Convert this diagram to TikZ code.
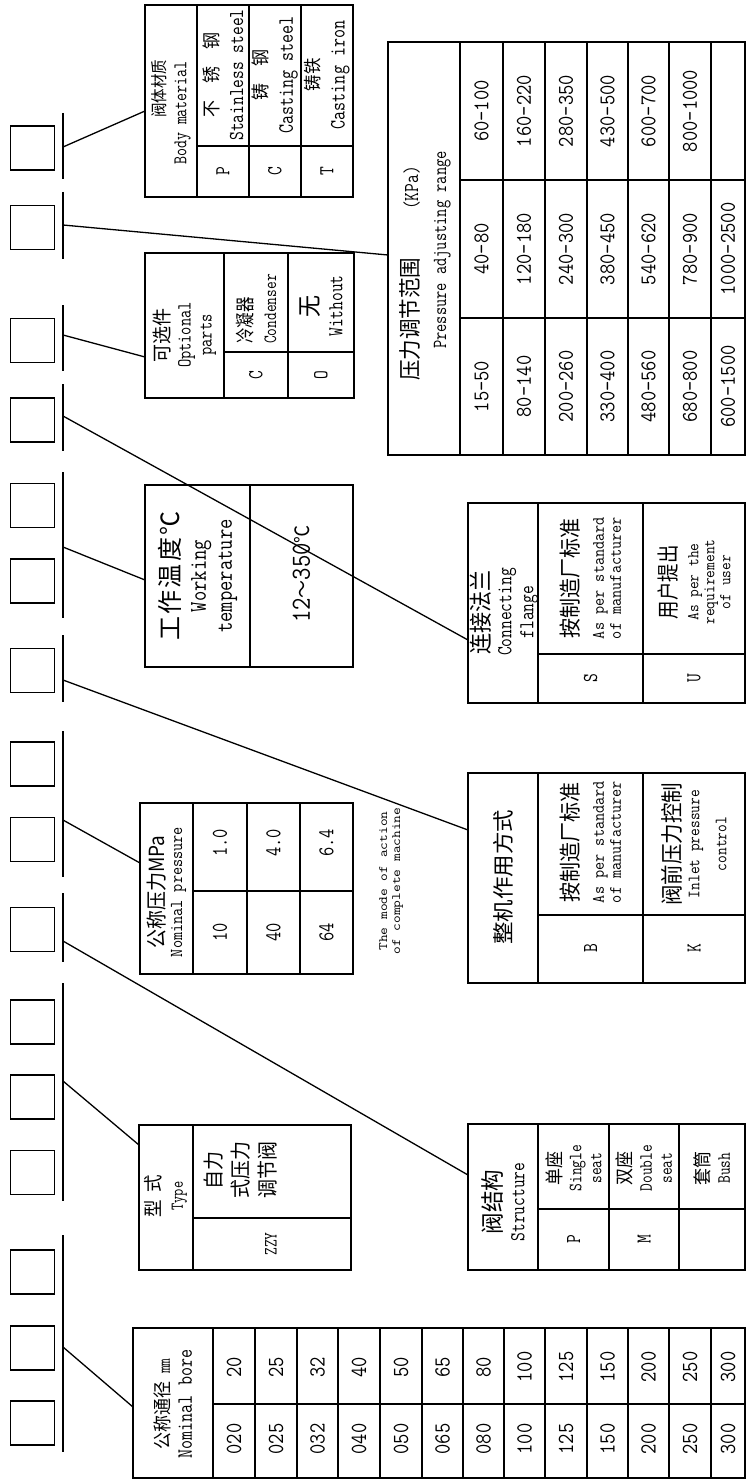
\documentclass[tikz,border=0pt]{standalone}
\usepackage{fontspec}
\usepackage{graphicx}
\newfontfamily\cjk{Noto Sans CJK SC}
\newcommand\fsz[2]{\fontsize{#1pt}{#2pt}\selectfont\lineskiplimit=-100pt\relax}
\newcommand\zh[3][1.1]{\scalebox{1}[#1]{\fsz{#2}{#2}\cjk #3}}
\newcommand\en[3][1.25]{\scalebox{1}[#1]{\fsz{#2}{#2}\ttfamily #3}}
\newcommand\els[4][1.25]{\scalebox{1}[#1]{\fsz{#2}{#2}\ttfamily\addfontfeatures{LetterSpace=#3}#4}}
\newcommand\zls[4][1]{\scalebox{1}[#1]{\fsz{#2}{#2}\cjk\addfontfeatures{LetterSpace=#3}#4}}
\newcommand\gap[1]{\rule{#1}{0pt}}
\tikzset{
  sq/.style={draw, line width=1.7pt, minimum size=44pt, inner sep=0pt},
  tick/.style={line width=1.5pt},
  conn/.style={line width=1.3pt},
  tf/.style={draw, line width=2.6pt, inner sep=0pt},
  il/.style={line width=1.6pt},
  tx/.style={rotate=90, inner sep=0pt, align=center}
}
\begin{document}
\begin{tikzpicture}[x=1pt,y=-1pt]
\useasboundingbox (0,0) rectangle (747,1482);
\fill[white] (0,0) rectangle (747,1482);

% ---------- code squares ----------
\foreach \n/\yy in {1/148,2/227.5,3/340.5,4/420,5/505.5,6/581,7/670.5,8/764,9/839.5,10/929.5,11/1022,12/1097,13/1172.5,14/1272,15/1348,16/1423}
  \node[sq] (s\n) at (32.5,\yy) {};

% ---------- ticks ----------
\foreach \n/\ya/\yb in {1/113/179,2/192/259,3/305/371,4/384/451,5/472/618,6/635/702,7/731/877,8/893/962,9/983/1201,10/1235/1452}{
  \coordinate (ta\n) at (63,\ya);
  \coordinate (tb\n) at (63,\yb);
  \draw[tick] (ta\n) -- (tb\n);
}

% connector start points on ticks
\coordinate (k1) at (63,147);
\coordinate (k2) at (63,225);
\coordinate (k3) at (63,335);
\coordinate (k4) at (63,416);
\coordinate (k5) at (63,547);
\coordinate (k6) at (63,680);
\coordinate (k7) at (63,820);
\coordinate (k8) at (63,941);
\coordinate (k9) at (63,1081);
\coordinate (k10) at (63,1347);
% connector end points on tables
\coordinate (e1) at (145,111);
\coordinate (e2) at (388,255);
\coordinate (e3) at (145,357);
\coordinate (e4) at (468,640);
\coordinate (e5) at (145,580);
\coordinate (e6) at (468,830);
\coordinate (e7) at (140,863);
\coordinate (e8) at (468,1175);
\coordinate (e9) at (139,1145);
\coordinate (e10) at (133,1407);
\foreach \n in {1,...,10} \draw[conn] (k\n) -- (e\n);

% ---------- Table A: body material ----------
\foreach \xx in {197,249,301} \draw[il] (\xx,5) -- (\xx,197);
\draw[il] (197,146) -- (353,146);
\node[tf, minimum width=208pt, minimum height=192pt] (tA) at (249,101) {};
\node[tx, font=\fsz{10}{21}] (aH) at (171,113) {\gap{48pt}\zh[1.15]{14.5}{阀体材质}\\\en{15.5}{Body material}};
\node[tx, font=\fsz{10}{25}] (aS) at (223,75) {\zh{17}{不　锈　钢}\\\en{17}{Stainless steel}};
\node[tx, font=\fsz{10}{25}] (aC) at (275,75) {\zh{17}{铸　钢}\\\en{17.5}{Casting steel}};
\node[tx, font=\fsz{10}{25}] (aT) at (327,75) {\zh{16.5}{铸铁}\\\en{17.5}{Casting iron}};
\node[tx] (aP) at (223,171) {\en{17}{P}};
\node[tx] (aCl) at (275,171) {\en{17}{C}};
\node[tx] (aTl) at (327,171) {\en{17}{T}};

% ---------- Table B: pressure adjusting range ----------
\foreach \xx in {460,503,545,587,628,669,711} \draw[il] (\xx,42) -- (\xx,455);
\foreach \yy in {180,318} \draw[il] (460,\yy) -- (745,\yy);
\node[tf, minimum width=357pt, minimum height=413pt] (tB) at (566.5,248.5) {};
\node[tx, font=\fsz{10}{28}] (bH) at (425,250) {\zh{20.5}{压力调节范围}\hspace{48pt}\els{17}{20}{(KPa)}\gap{47pt}\\\els{16}{20}{Pressure adjusting range}};
\foreach \xx/\a/\b/\c [count=\i] in {481.5/15-50/40-80/60-100, 524/80-140/120-180/160-220, 566/200-260/240-300/280-350, 607.5/330-400/380-450/430-500, 648.5/480-560/540-620/600-700, 690/680-800/780-900/800-1000, 728/600-1500/1000-2500/}{
  \node[tx] (bA\i) at (\xx,386.5) {\els[1.12]{20}{7}{\a}};
  \node[tx] (bB\i) at (\xx,249) {\els[1.12]{20}{7}{\b}};
  \node[tx] (bC\i) at (\xx,111) {\els[1.12]{20}{7}{\c}};
}

% ---------- Table C: optional parts ----------
\foreach \xx in {224,288} \draw[il] (\xx,253) -- (\xx,398);
\draw[il] (224,352) -- (354,352);
\node[tf, minimum width=209pt, minimum height=145pt] (tC) at (249.5,325.5) {};
\node[tx, font=\fsz{10}{21}] (cH) at (184.5,335) {\zh{18}{可选件}\\\els{16}{20}{Optional}\\\els{16}{20}{parts}};
\node[tx, font=\fsz{10}{24}, align=left] (cC) at (256,309) {\zh[1.25]{15.5}{冷凝器}\\\els{15}{10}{Condenser}};
\node[tx, font=\fsz{10}{24}] (cO) at (321,306) {\zh{22}{无}\\\els{17}{24}{Without}};
\node[tx] (cCl) at (256,375) {\en{17}{C}};
\node[tx] (cOl) at (321,375) {\en{17}{O}};

% ---------- Table D: working temperature ----------
\draw[il] (250,485) -- (250,667);
\node[tf, minimum width=208pt, minimum height=182pt] (tD) at (249,576) {};
\node[tx, font=\fsz{10}{26}] (dH) at (198,576) {\zls[1.05]{24}{10}{工作温度℃}\\\els[1.2]{20}{12}{Working}\\\els[1.2]{20}{18}{temperature}};
\node[tx] (dV) at (301.5,574) {\els[1.15]{24}{14}{12}\zh{18}{～}\els[1.15]{24}{14}{350}\zh{18}{℃}};

% ---------- Table E: nominal pressure ----------
\foreach \xx in {193,247,300} \draw[il] (\xx,803) -- (\xx,974);
\draw[il] (193,891) -- (353,891);
\node[tf, minimum width=213pt, minimum height=171pt] (tE) at (246.5,888.5) {};
\node[tx, font=\fsz{10}{18}] (eH) at (166.5,892) {\zh{19}{公称压力MPa}\\\en[1.15]{15.8}{Nominal pressure}};
\node[tx] (e10v) at (220,843) {\en{18}{1.0}};
\node[tx] (e40v) at (273.5,843) {\en{18}{4.0}};
\node[tx] (e64v) at (326.5,843) {\en{18}{6.4}};
\node[tx] (e10c) at (220,932) {\en{18}{10}};
\node[tx] (e40c) at (273.5,932) {\en{18}{40}};
\node[tx] (e64c) at (326.5,932) {\en{18}{64}};

% ---------- mode of action caption ----------
\node[tx, font=\fsz{10}{13}] (mode) at (391,881) {\en[0.85]{15}{The mode of action}\\\en[0.85]{15}{of complete machine}};

% ---------- Table F: mode of action ----------
\foreach \xx in {538,643} \draw[il] (\xx,773) -- (\xx,983);
\draw[il] (538,915) -- (745,915);
\node[tf, minimum width=277pt, minimum height=210pt] (tF) at (606.5,878) {};
\node[tx] (fH) at (503,877) {\zh[0.95]{22.5}{整机作用方式}};
\node[tx, font=\fsz{10}{17}] (fB) at (590.5,842) {\zh{20}{按制造厂标准}\\[8pt]\en[1.1]{15.8}{As per standard}\\\en[1.1]{15.8}{of manufacturer}};
\node[tx, font=\fsz{10}{19}] (fK) at (694,844) {\zh{20.5}{阀前压力控制}\\\els[1.15]{15}{10}{Inlet pressure}\\[8pt]\en[1.15]{15}{control}};
\node[tx] (fBl) at (590.5,948.5) {\en{17}{B}};
\node[tx] (fKl) at (694,948.5) {\en{17}{K}};

% ---------- Table G: connecting flange ----------
\foreach \xx in {538,643} \draw[il] (\xx,503) -- (\xx,703);
\draw[il] (538,654) -- (745,654);
\node[tf, minimum width=277pt, minimum height=200pt] (tG) at (606.5,603) {};
\node[tx, font=\fsz{10}{22}] (gH) at (504,612) {\zh{21}{连接法兰}\\\els{17}{25}{Connecting}\\\els{17}{25}{flange}};
\node[tx, font=\fsz{10}{17}] (gS) at (590.5,578) {\zh{20}{按制造厂标准}\\[8pt]\en[1.1]{15.8}{As per standard}\\\en[1.1]{15.8}{of manufacturer}};
\node[tx, font=\fsz{10}{16}] (gU) at (694,582) {\zh[1.2]{18.5}{用户提出}\\[6pt]\els[1.1]{15}{15}{As per the}\\\els[1.1]{15}{15}{requirement}\\\en[1.1]{15}{of user}};
\node[tx] (gSl) at (590.5,678.5) {\en{17}{S}};
\node[tx] (gUl) at (694,678.5) {\en{17}{U}};

% ---------- Table H: type ----------
\draw[il] (193,1125) -- (193,1270);
\draw[il] (193,1218) -- (351,1218);
\node[tx, font=\fsz{10}{22}] (hH) at (166,1196) {\zh{17.5}{型\hspace{8pt}式}\\\els[1.3]{14}{10}{Type}};
\node[tx, font=\fsz{10}{27}] (hV) at (241,1170) {\zh{19}{自力}\\\zh{19}{式压力}\\\zh{19}{调节阀}};
\node[tx] (hZ) at (271,1244) {\en{15}{ZZY}};
\node[tf, minimum width=212pt, minimum height=145pt] (tH) at (245,1197.5) {};

% ---------- Table I: structure ----------
\foreach \xx in {538,609,679} \draw[il] (\xx,1124) -- (\xx,1270);
\draw[il] (538,1209) -- (745,1209);
\node[tf, minimum width=277pt, minimum height=146pt] (tI) at (606.5,1197) {};
\node[tx, font=\fsz{10}{23}] (iH) at (503,1202) {\zh{21.5}{阀结构}\\\els{17}{15}{Structure}};
\node[tx, font=\fsz{10}{20}] (iS) at (573.5,1168) {\zh{17}{单座}\\\els{15}{20}{Single}\\\els{15}{20}{seat}};
\node[tx, font=\fsz{10}{20}] (iD) at (644,1168) {\zh{17}{双座}\\\els{15}{20}{Double}\\\els{15}{20}{seat}};
\node[tx, font=\fsz{10}{20}] (iB) at (712,1168) {\zh{17}{套筒}\\\en{15}{Bush}};
\node[tx] (iPl) at (573.5,1239.5) {\en{17}{P}};
\node[tx] (iMl) at (644,1239.5) {\en{17}{M}};

% ---------- Table J: nominal bore ----------
\foreach \xx in {213,255,297,338,380,422,463,504,545,587,628,669,711} \draw[il] (\xx,1328) -- (\xx,1478);
\draw[il] (213,1404) -- (745,1404);
\node[tf, minimum width=612pt, minimum height=150pt] (tJ) at (439,1403) {};
\node[tx, font=\fsz{10}{22}] (jH) at (173,1404) {\zh{17}{公称通径}\hspace{8pt}\en{15}{mm}\\\en{17.5}{Nominal bore}};
\foreach \xx/\a/\b [count=\i] in {234/020/20, 276/025/25, 317.5/032/32, 359/040/40, 401/050/50, 442.5/065/65, 483.5/080/80, 524.5/100/100, 566/125/125, 607.5/150/150, 648.5/200/200, 690/250/250, 728/300/300}{
  \node[tx] (jA\i) at (\xx,1439) {\en[1.15]{20}{\a}};
  \node[tx] (jB\i) at (\xx,1367) {\en[1.15]{20}{\b}};
}
\end{tikzpicture}
\end{document}
